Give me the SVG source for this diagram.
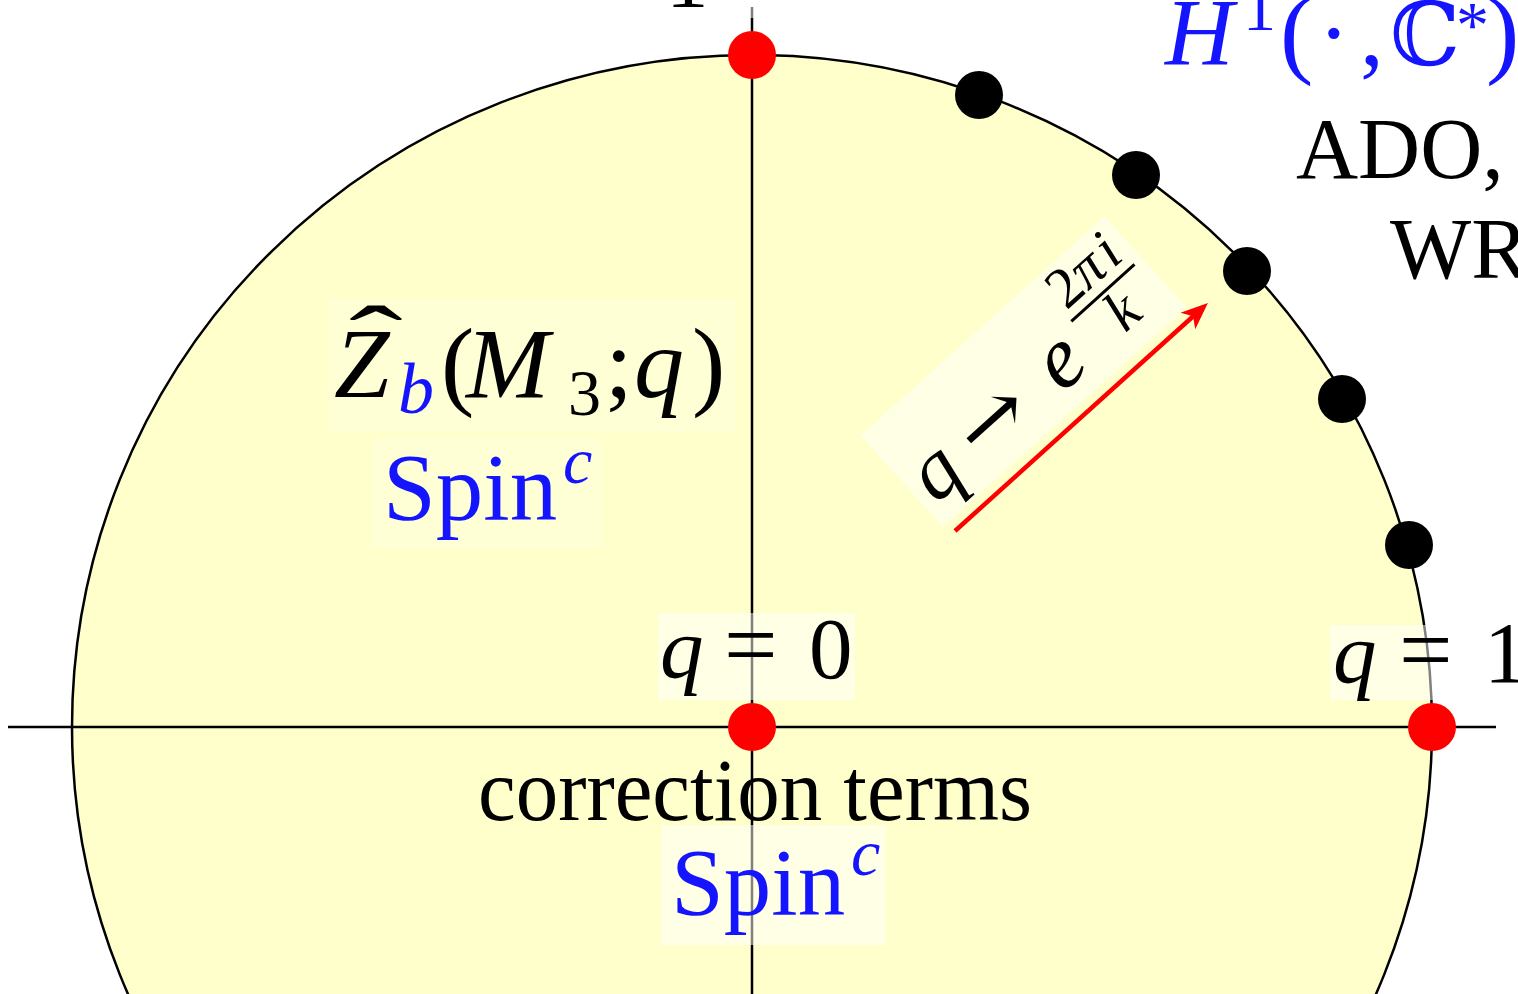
<svg xmlns="http://www.w3.org/2000/svg" width="1518" height="994" viewBox="0 0 1518 994">
<style>
.ax{stroke:#000;stroke-width:2.5;fill:none}
.lbg{fill:#fff;fill-opacity:0.5}
.lbg2{fill:#fff;fill-opacity:0.18}
.t{font-family:"Liberation Serif","Times New Roman",serif;fill:#000}
.i{font-style:italic}
.b{fill:#1414ff}
.rd{fill:#ff0000}
.bk{fill:#000}
.ds{font-family:"DejaVu Serif",serif}
</style>
<defs>
<marker id="ah" markerUnits="userSpaceOnUse" markerWidth="40" markerHeight="30" viewBox="-20 -15 40 30" refX="0" refY="0" orient="auto">
<path d="M12,0 L-15,-11 L-8,0 L-15,11 Z" fill="#f00"/>
</marker>
</defs>
<rect width="1518" height="994" fill="#fff"/>
<g id="disk">
<ellipse cx="752" cy="727" rx="680" ry="672" fill="#ffffcc" stroke="#000" stroke-width="2.5"/>
</g>
<g id="axes">
<line class="ax" x1="8" y1="727" x2="1496" y2="727"/>
<line class="ax" x1="752" y1="7" x2="752" y2="994"/>
</g>
<g id="label-top">
<rect class="lbg" x="640" y="0" width="120" height="18"/>
<text class="t" x="666" y="7" font-size="85">1</text>
</g>
<g id="label-zhat">
<rect class="lbg2" x="328" y="300" width="407" height="132"/>
<text class="t i" x="334" y="397" font-size="100">Z</text>
<text class="t" transform="translate(349,372) scale(1.7,1)" font-size="95">ˆ</text>
<text class="t i b" x="398" y="413" font-size="72">b</text>
<text class="t" x="441" y="397" font-size="100">(</text>
<text class="t i" x="466" y="397" font-size="100">M</text>
<text class="t" x="568" y="415" font-size="66">3</text>
<text class="t" x="605" y="397" font-size="100">;</text>
<text class="t i" x="634" y="397" font-size="100">q</text>
<text class="t" x="692" y="397" font-size="100">)</text>
</g>
<g id="label-spin-top">
<rect class="lbg2" x="372" y="438" width="231" height="110"/>
<text class="t b" x="383" y="520" font-size="95">Spin</text>
<text class="t i b" x="563" y="483" font-size="66">c</text>
</g>
<g id="label-h1">
<text class="t i b" x="1165" y="65" font-size="95">H</text>
<text class="t b" x="1243" y="30" font-size="66">1</text>
<text class="t b" x="1280" y="65" font-size="100">(</text>
<text class="t b" x="1318" y="65" font-size="95">·</text>
<text class="t b" x="1360" y="65" font-size="95">,</text>
<text class="ds b" x="1390" y="65" font-size="88">ℂ</text>
<text class="t b" x="1456" y="47" font-size="66">*</text>
<text class="t b" x="1486" y="65" font-size="100">)</text>
</g>
<g id="label-ado">
<text class="t" x="1296" y="178" font-size="86">ADO,</text>
<text class="t" x="1390" y="278" font-size="86">WR</text>
</g>
<g id="label-q0">
<rect class="lbg" x="658" y="613" width="197" height="87"/>
<text class="t i" x="660" y="677" font-size="87">q</text>
<text class="t" x="724" y="677" font-size="95">=</text>
<text class="t" x="809" y="678" font-size="87">0</text>
</g>
<g id="label-q1">
<rect class="lbg" x="1330" y="625" width="188" height="75"/>
<text class="t i" x="1333" y="682" font-size="87">q</text>
<text class="t" x="1399" y="682" font-size="95">=</text>
<text class="t" x="1484" y="682" font-size="87">1</text>
</g>
<g id="label-correction">
<text class="t" x="478" y="820" font-size="88" textLength="554" lengthAdjust="spacingAndGlyphs">correction terms</text>
</g>
<g id="label-spin-bottom">
<rect class="lbg" x="661" y="825" width="225" height="120"/>
<text class="t b" x="671" y="915" font-size="95">Spin</text>
<text class="t i b" x="851" y="875" font-size="66">c</text>
</g>
<g id="label-limit" transform="translate(943,527) rotate(-42)">
<rect class="lbg" x="0" y="-123" width="328" height="123"/>
<text class="t i" x="10" y="-21" font-size="84">q</text>
<text class="ds" x="72" y="-19" font-size="86">→</text>
<text class="t i" x="178" y="-19" font-size="88">e</text>
<text class="t" x="276" y="-78" font-size="58" text-anchor="middle">2<tspan class="i">π</tspan><tspan class="i" dx="5">i</tspan></text>
<line x1="233" y1="-67" x2="318" y2="-67" stroke="#000" stroke-width="3"/>
<text class="t i" x="278" y="-22" font-size="58" text-anchor="middle">k</text>
</g>
<g id="dots">
<circle class="rd" cx="752" cy="55" r="24"/>
<circle class="rd" cx="752" cy="727" r="24"/>
<circle class="rd" cx="1432" cy="727" r="24"/>
<circle class="bk" cx="979" cy="95" r="24"/>
<circle class="bk" cx="1136" cy="175" r="24"/>
<circle class="bk" cx="1247" cy="271" r="24"/>
<circle class="bk" cx="1342" cy="399" r="24"/>
<circle class="bk" cx="1409" cy="545" r="24"/>
</g>
<g id="connectors">
<line x1="955" y1="531" x2="1199" y2="311" stroke="#f00" stroke-width="4.5" marker-end="url(#ah)"/>
</g>
</svg>
